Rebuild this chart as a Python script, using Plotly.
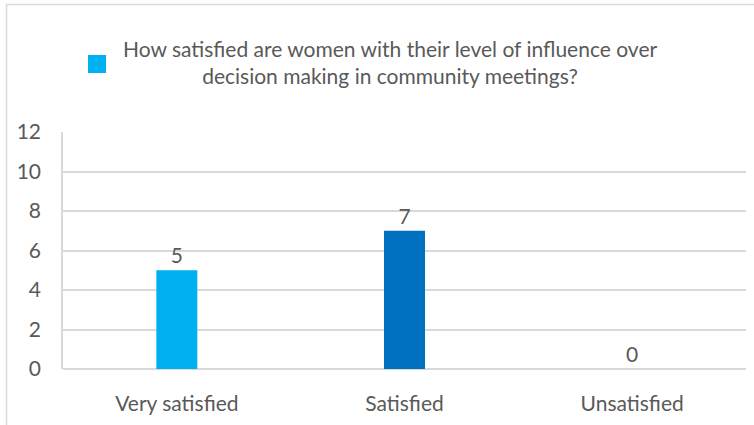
import plotly.graph_objects as go

# Survey responses
categories = ["Very satisfied", "Satisfied", "Unsatisfied"]
counts = [5, 7, 0]
bar_colors = ["#00B0F0", "#0070C0", "#00B0F0"]
series_name = "How satisfied are women with their level of influence over<br>decision making in community meetings?"
y_ticks = [0, 2, 4, 6, 8, 10, 12]

W, H = 754, 425
L, R, T, B = 63, 8, 132, 56
pw, ph = W - L - R, H - T - B

def px_x(x):
    return (x - L) / pw

def px_y(y):
    return (H - B - y) / ph

text_color = "#595959"
grid_color = "#D9D9D9"
font_family = "Lato, 'Open Sans', sans-serif"
fs = 21

fig = go.Figure()
fig.add_trace(go.Bar(
    x=categories,
    y=counts,
    name=series_name,
    marker=dict(color=bar_colors, line=dict(width=0)),
    width=0.18,
    text=counts,
    texttemplate="%{y}",
    textposition="outside",
    textfont=dict(size=fs, color=text_color, family=font_family),
    cliponaxis=False,
    showlegend=False,
))

# Legend swatch and series title
fig.add_shape(type="rect", xref="paper", yref="paper",
              x0=px_x(88), x1=px_x(106), y0=px_y(73), y1=px_y(55),
              fillcolor="#00B0F0", line=dict(width=0))
fig.add_annotation(xref="paper", yref="paper", x=px_x(390), y=px_y(62),
                   text=series_name, showarrow=False, align="center",
                   xanchor="center", yanchor="middle",
                   font=dict(size=fs, color=text_color, family=font_family))

# Chart frame
fig.add_shape(type="rect", xref="paper", yref="paper",
              x0=px_x(6.5), x1=px_x(W + 20), y0=px_y(H + 20), y1=px_y(4.5),
              line=dict(color=grid_color, width=1.5), fillcolor="rgba(0,0,0,0)",
              layer="below")

fig.update_layout(
    width=W, height=H,
    margin=dict(l=L, r=R, t=T, b=B, pad=0),
    paper_bgcolor="white", plot_bgcolor="white",
    font=dict(family=font_family, size=fs, color=text_color),
    bargap=0.82,
)
fig.update_yaxes(range=[0, 12], tickvals=y_ticks, showgrid=True,
                 gridcolor=grid_color, gridwidth=1.5, zeroline=True,
                 zerolinecolor=grid_color, zerolinewidth=1.5,
                 showline=True, linecolor=grid_color, linewidth=1.5,
                 ticks="", ticklabelstandoff=16,
                 tickfont=dict(size=fs, color=text_color))
fig.update_xaxes(showgrid=False, showline=False, ticks="",
                 ticklabelstandoff=20,
                 tickfont=dict(size=fs, color=text_color))

fig.write_html("out.html")
